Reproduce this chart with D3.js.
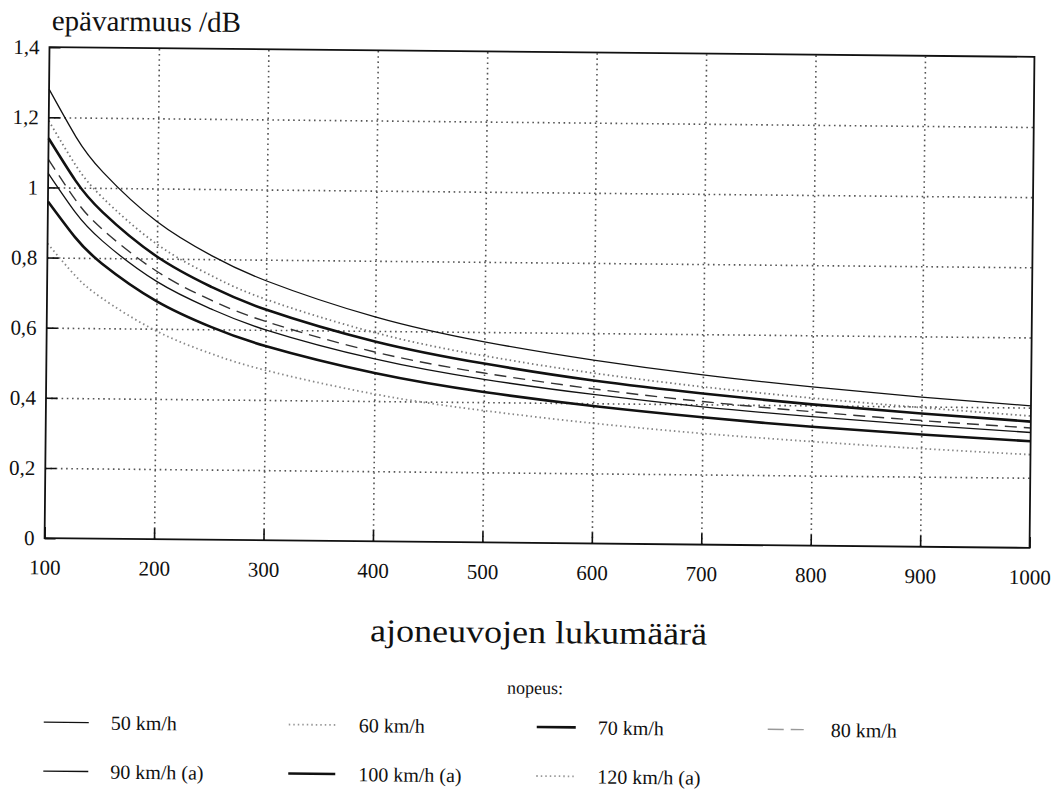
<!DOCTYPE html>
<meta charset="utf-8">
<style>
body { margin: 0; background: #fff; }
svg text { font-family: "Liberation Serif", "DejaVu Serif", serif !important; fill: #111; }
.grid line { stroke: #555; stroke-width: 1.6; stroke-dasharray: 1.6, 3.6; }
.grid path { display: none; }
.ticks line { stroke: #111; stroke-width: 1.6; }
.ticks path { display: none; }
.frame { fill: none; stroke: #111; stroke-width: 1.8; }
.curve { fill: none; }
</style>
<body>
<script src="https://cdn.jsdelivr.net/npm/d3@7"></script>
<script>

// vehicle counts where the curves were read
var counts = [100, 125, 150, 200, 250, 300, 400, 500, 600, 700, 800, 900, 1000];

// uncertainty /dB for each speed
var v50   = [1.28, 1.145, 1.045, 0.905, 0.81, 0.74, 0.64, 0.572, 0.523, 0.484, 0.453, 0.427, 0.405];
var v60   = [1.19, 1.064, 0.972, 0.841, 0.753, 0.687, 0.595, 0.532, 0.486, 0.45, 0.421, 0.397, 0.376];
var v70   = [1.14, 1.02, 0.931, 0.806, 0.721, 0.658, 0.57, 0.51, 0.465, 0.431, 0.403, 0.38, 0.36];
var v80   = [1.08, 0.966, 0.882, 0.764, 0.683, 0.624, 0.54, 0.483, 0.441, 0.408, 0.382, 0.36, 0.342];
var v90a  = [1.04, 0.93, 0.849, 0.735, 0.658, 0.60, 0.52, 0.465, 0.425, 0.393, 0.368, 0.347, 0.329];
var v100a = [0.96, 0.859, 0.784, 0.679, 0.607, 0.554, 0.48, 0.429, 0.392, 0.363, 0.339, 0.32, 0.304];
var v120a = [0.84, 0.751, 0.686, 0.594, 0.531, 0.485, 0.42, 0.376, 0.343, 0.317, 0.297, 0.28, 0.266];

var seriesNames = ["50 km/h", "60 km/h", "70 km/h", "80 km/h", "90 km/h (a)", "100 km/h (a)", "120 km/h (a)"];
var seriesValues = [v50, v60, v70, v80, v90a, v100a, v120a];

var xTicks = [100, 200, 300, 400, 500, 600, 700, 800, 900, 1000];
var yTicks = [0, 0.2, 0.4, 0.6, 0.8, 1, 1.2, 1.4];
var yTickLabels = ["0", "0,2", "0,4", "0,6", "0,8", "1", "1,2", "1,4"];

// line looks, by series
var looks = {
    "50 km/h":      {w: 1.3, dash: null,    color: "#111"},
    "60 km/h":      {w: 1.8, dash: "1.5,3", color: "#777"},
    "70 km/h":      {w: 2.6, dash: null,    color: "#111"},
    "80 km/h":      {w: 1.4, dash: "12,7",  color: "#333"},
    "90 km/h (a)":  {w: 1.3, dash: null,    color: "#111"},
    "100 km/h (a)": {w: 2.6, dash: null,    color: "#111"},
    "120 km/h (a)": {w: 1.8, dash: "1.5,3", color: "#888"}
};

var serif = '"Liberation Serif", "DejaVu Serif", serif';

var margin = {top: 52, left: 46},
    width = 1031 - 46,
    height = 543 - 52;

var svg = d3.select("body").append("svg")
    .attr("width", 1056)
    .attr("height", 789);

// the scanned page is turned a little, so turn everything with it
var page = svg.append("g")
    .attr("transform", "rotate(0.57,540,400)")
    .attr("font-family", serif);

var g = page.append("g")
    .attr("transform", "translate(" + margin.left + "," + margin.top + ")");

var x = d3.scaleLinear().domain([100, 1000]).range([0, width]);
var y = d3.scaleLinear().domain([0, 1.4]).range([height, 0]);

// dotted grid
g.append("g")
    .attr("class", "grid")
    .attr("transform", "translate(0," + height + ")")
    .call(d3.axisBottom(x).tickValues(xTicks.slice(1, -1)).tickSize(-height).tickFormat(""));
g.append("g")
    .attr("class", "grid")
    .call(d3.axisLeft(y).tickValues(yTicks.slice(1, -1)).tickSize(-width).tickFormat(""));

// curves
var line = d3.line()
    .x(function(d) { return x(d[0]); })
    .y(function(d) { return y(d[1]); })
    .curve(d3.curveNatural);

seriesNames.forEach(function(name, i) {
    var pts = counts.map(function(c, j) { return [c, seriesValues[i][j]]; });
    var lk = looks[name];
    g.append("path")
        .attr("class", "curve")
        .attr("d", line(pts))
        .attr("stroke", lk.color)
        .attr("stroke-width", lk.w)
        .attr("stroke-dasharray", lk.dash);
});

// short inner ticks and labels
var xAxis = g.append("g")
    .attr("class", "ticks")
    .attr("transform", "translate(0," + height + ")")
    .call(d3.axisBottom(x).tickValues(xTicks).tickSize(-11).tickPadding(28).tickFormat(d3.format("d")));
xAxis.attr("font-family", serif).attr("font-size", 21);
xAxis.selectAll("text").attr("dy", "0.4em");

var yAxis = g.append("g")
    .attr("class", "ticks")
    .call(d3.axisLeft(y).tickValues(yTicks).tickSize(-11).tickPadding(10)
        .tickFormat(function(d, i) { return yTickLabels[i]; }));
yAxis.attr("font-family", serif).attr("font-size", 21);
yAxis.selectAll("text").attr("x", -10);

g.append("rect")
    .attr("class", "frame")
    .attr("width", width)
    .attr("height", height);

// titles
page.append("text")
    .attr("x", 48).attr("y", 35)
    .attr("font-size", 29)
    .text("epävarmuus /dB");

page.append("text")
    .attr("x", 541).attr("y", 643)
    .attr("text-anchor", "middle")
    .attr("font-size", 32)
    .attr("textLength", 337)
    .attr("lengthAdjust", "spacingAndGlyphs")
    .text("ajoneuvojen lukumäärä");

page.append("text")
    .attr("x", 538).attr("y", 694)
    .attr("text-anchor", "middle")
    .attr("font-size", 18)
    .text("nopeus:");

// legend
var colSample = [[47, 92], [292, 339], [540, 579], [771, 807]];
var colLabel = [114, 362, 601, 834];
var rowBase = [734, 783];

var leg = page.append("g");
seriesNames.forEach(function(name, i) {
    var r = Math.floor(i / 4), c = i % 4;
    var lk = looks[name];
    var dash = name === "80 km/h" ? "16,7" : lk.dash;
    leg.append("line")
        .attr("x1", colSample[c][0]).attr("x2", colSample[c][1])
        .attr("y1", rowBase[r] - 7).attr("y2", rowBase[r] - 7)
        .attr("stroke", lk.color === "#111" ? "#111" : "#999")
        .attr("stroke-width", lk.w)
        .attr("stroke-dasharray", dash);
    leg.append("text")
        .attr("x", colLabel[c]).attr("y", rowBase[r])
        .attr("font-size", 20)
        .text(name);
});

</script>
</body>
